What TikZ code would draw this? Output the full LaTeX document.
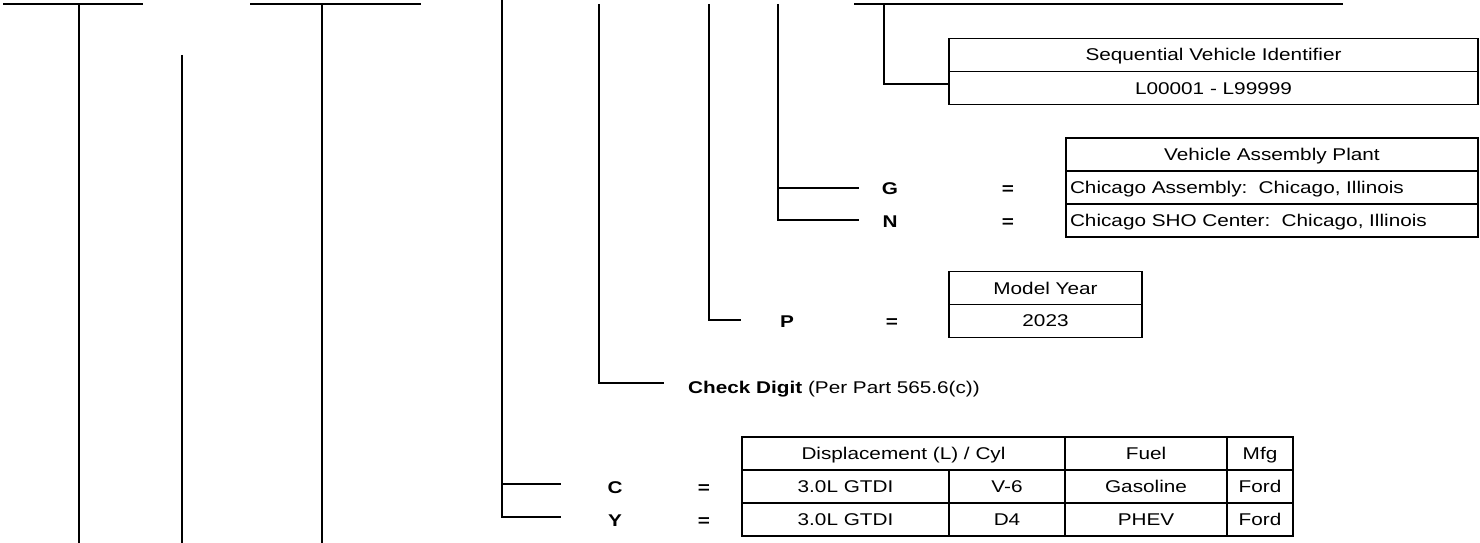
\documentclass[tikz,border=0pt]{standalone}
\usepackage{fontspec}
\setmainfont{Liberation Sans}[FakeStretch=1.22]
\usetikzlibrary{calc}

\tikzset{
  stem/.style={line width=1.9pt},
  txt/.style={font=\fontsize{17}{20}\selectfont, inner sep=0pt, text height=12.2pt, text depth=0pt},
  code/.style={txt, font=\fontsize{17}{20}\selectfont\bfseries},
  tcell/.style={txt, draw, line width=1.1pt, minimum height=33pt, minimum width=#1},
  lcell/.style={txt, draw, line width=1.1pt, minimum height=33pt, inner xsep=4pt, text width=#1, align=left},
}

\begin{document}
\begin{tikzpicture}[x=1pt, y=-1pt]
  \useasboundingbox (0,0) rectangle (1480,543);
  % ------------------------------------------------ stems cut off on the left
  \draw[stem] (3,4) -- (143,4);
  \draw[stem] (79,4) -- (79,543);
  \draw[stem] (182,55) -- (182,543);
  \draw[stem] (250,4) -- (421,4);
  \draw[stem] (322,4) -- (322,543);
  % ------------------------------------------------ engine
  \coordinate (engtop) at (502,0);
  \coordinate (engC) at (561,484);
  \coordinate (engY) at (561,517);
  \draw[stem] (engtop) |- (engY);
  \draw[stem] (engtop |- engC) -- (engC);
  \node[code] (codeC) at (615,487) {C};
  \node[code] (codeY) at (615,520) {Y};
  \node[code] (eqC) at (704,487) {=};
  \node[code] (eqY) at (704,520) {=};
  \node[tcell=323pt] (hdisp) at (903.5,453.5) {Displacement (L) / Cyl};
  \node[tcell=162pt] (hfuel) at (1146,453.5) {Fuel};
  \node[tcell=66pt]  (hmfg)  at (1260,453.5) {Mfg};
  \node[tcell=207pt] (dispC) at (845.5,486.5) {3.0L GTDI};
  \node[tcell=116pt] (cylC)  at (1007,486.5) {V-6};
  \node[tcell=162pt] (fuelC) at (1146,486.5) {Gasoline};
  \node[tcell=66pt]  (mfgC)  at (1260,486.5) {Ford};
  \node[tcell=207pt] (dispY) at (845.5,519.5) {3.0L GTDI};
  \node[tcell=116pt] (cylY)  at (1007,519.5) {D4};
  \node[tcell=162pt] (fuelY) at (1146,519.5) {PHEV};
  \node[tcell=66pt]  (mfgY)  at (1260,519.5) {Ford};
  % ------------------------------------------------ check digit
  \coordinate (chktop) at (599,4);
  \coordinate (chkend) at (664,383);
  \draw[stem] (chktop) |- (chkend);
  \node[txt, anchor=west] (chk) at (688,387) {\textbf{Check Digit} (Per Part 565.6(c))};
  % ------------------------------------------------ model year
  \coordinate (yeartop) at (709,4);
  \coordinate (yearend) at (741,320);
  \draw[stem] (yeartop) |- (yearend);
  \node[code] (codeP) at (787,321) {P};
  \node[code] (eqP) at (892,321) {=};
  \node[tcell=193pt] (hyear) at (1045.5,288.25) {Model Year};
  \node[tcell=193pt] (year) at (1045.5,320.75) {2023};
  % ------------------------------------------------ assembly plant
  \coordinate (planttop) at (778,4);
  \coordinate (plantG) at (859,188);
  \coordinate (plantN) at (859,220);
  \draw[stem] (planttop) |- (plantN);
  \draw[stem] (planttop |- plantG) -- (plantG);
  \node[code] (codeG) at (890,188) {G};
  \node[code] (codeN) at (890,221) {N};
  \node[code] (eqG) at (1008,188) {=};
  \node[code] (eqN) at (1008,221) {=};
  \node[tcell=412pt] (hplant) at (1272,154.5) {Vehicle Assembly Plant};
  \node[lcell=404pt] (plG) at (1272,187.5) {Chicago Assembly:\ \ Chicago, Illinois};
  \node[lcell=404pt] (plN) at (1272,220.5) {Chicago SHO Center:\ \ Chicago, Illinois};
  % ------------------------------------------------ serial number
  \draw[stem] (854,4) -- (1343,4);
  \coordinate (sertop) at (884,4);
  \node[tcell=529pt] (hser) at (1213.5,54.75) {Sequential Vehicle Identifier};
  \node[tcell=529pt] (ser) at (1213.5,88.25) {L00001 - L99999};
  \draw[stem] (sertop) |- ([yshift=4pt]ser.west);
\end{tikzpicture}
\end{document}
